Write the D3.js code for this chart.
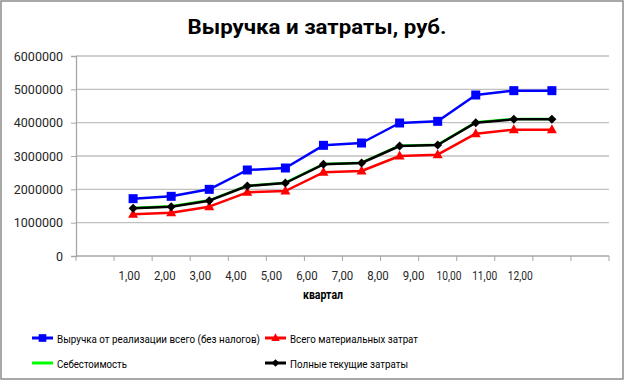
<!DOCTYPE html>
<html><head><meta charset="utf-8">
<script src="https://cdn.jsdelivr.net/npm/d3@7"></script>
<style>
body{margin:0;background:#fff;}
svg{display:block;font-family:Roboto,"Noto Sans",sans-serif;}
</style></head>
<body><svg id="c" width="625" height="381"></svg>
<script>
const title = "Выручка и затраты, руб.";
const xTitle = "квартал";
const categories = ["", "1,00","2,00","3,00","4,00","5,00","6,00","7,00","8,00","9,00","10,00","11,00","12,00", ""];
const labelSlots = ["", "1,00","2,00","3,00","4,00","5,00","6,00","7,00","8,00","9,00","10,00","11,00","12,00", "_a", "_b"];
const yTicks = [0,1000000,2000000,3000000,4000000,5000000,6000000];
const seriesNames = ["Выручка от реализации всего (без налогов)","Всего материальных затрат","Себестоимость","Полные текущие затраты"];
const revenue  = [1720000,1790000,2000000,2580000,2640000,3320000,3390000,3990000,4040000,4830000,4960000,4960000];
const material = [1250000,1300000,1480000,1910000,1950000,2510000,2550000,3000000,3040000,3670000,3790000,3790000];
const costPrice= [1440000,1490000,1670000,2110000,2200000,2760000,2800000,3310000,3340000,4010000,4110000,4110000];
const current  = [1430000,1480000,1660000,2100000,2190000,2750000,2790000,3300000,3330000,4000000,4100000,4100000];

const svg = d3.select("#c");
svg.append("rect").attr("x",1).attr("y",1).attr("width",622).attr("height",378)
  .attr("fill","#fff").attr("stroke","#8c8c8c").attr("stroke-width",1.5);

const L=76,R=609,T=56,B=256;
const x = d3.scaleBand().domain(categories.map((d,i)=>i)).range([L,R]);
const xl = d3.scaleBand().domain(labelSlots.map((d,i)=>i)).range([L,R]);
const y = d3.scaleLinear().domain([0,6000000]).range([B,T]);

svg.append("g").selectAll("line").data(yTicks.slice(1)).join("line")
  .attr("x1",L).attr("x2",R).attr("y1",d=>y(d)).attr("y2",d=>y(d))
  .attr("stroke","#c0c0c0").attr("stroke-width",1.3);

const ya = svg.append("g").attr("transform",`translate(${L},0)`)
  .call(d3.axisLeft(y).tickValues(yTicks).tickSize(5).tickPadding(8).tickFormat(d3.format("d")));
ya.select(".domain").attr("stroke","#a6a6a6").attr("stroke-width",1.3);
ya.selectAll(".tick line").attr("stroke","#a6a6a6");
ya.selectAll("text").attr("font-size",12.5).attr("fill","#262626").attr("font-family","Roboto");

const xa = svg.append("g").attr("transform",`translate(0,${B})`);
xa.append("line").attr("x1",L).attr("x2",R).attr("stroke","#a6a6a6").attr("stroke-width",1.3);
const bounds = categories.map((d,i)=>x(i)).concat([R]);
xa.selectAll("line.t").data(bounds).join("line").attr("class","t")
  .attr("x1",d=>d).attr("x2",d=>d).attr("y1",0).attr("y2",5).attr("stroke","#a6a6a6");
xa.selectAll("text").data(labelSlots.filter(d=>d && d[0]!=="_")).join("text")
  .attr("x",d=>xl(labelSlots.indexOf(d))+xl.bandwidth()/2).attr("y",24)
  .attr("text-anchor","middle").attr("font-size",12).attr("fill","#262626").text(d=>d)
  .each(function(d){ this.setAttribute("textLength", d.length===4?21.5:25); this.setAttribute("lengthAdjust","spacingAndGlyphs"); });

svg.append("text").attr("x",323).attr("y",299).attr("text-anchor","middle")
  .attr("font-weight","bold").attr("font-size",12.5).attr("fill","#000")
  .attr("textLength",40).attr("lengthAdjust","spacingAndGlyphs").text(xTitle);

svg.append("text").attr("x",317).attr("y",34).attr("text-anchor","middle")
  .attr("font-weight","bold").attr("font-size",21).attr("fill","#000")
  .attr("textLength",259).attr("lengthAdjust","spacingAndGlyphs").text(title);

const px = i => x(i+1)+x.bandwidth()/2;
const line = d3.line().x((d,i)=>px(i)).y(d=>y(d));
const series = [
  {name:seriesNames[0], data:revenue, color:"#0000ff", marker:"square", w:203},
  {name:seriesNames[1], data:material, color:"#ff0000", marker:"triangle", w:128},
  {name:seriesNames[2], data:costPrice, color:"#00ff00", marker:"none", w:70},
  {name:seriesNames[3], data:current, color:"#000000", marker:"diamond", w:118}
];
function marker(g, type, color, s){
  s = s||1;
  if(type==="square") g.append("rect").attr("x",-4.5*s).attr("y",-4.5*s).attr("width",9*s).attr("height",9*s).attr("fill",color);
  else if(type==="triangle") g.append("path").attr("d",`M0,${-5.5*s}L${5*s},${3.5*s}L${-5*s},${3.5*s}Z`).attr("fill",color);
  else if(type==="diamond") g.append("path").attr("d",`M0,${-4.5*s}L${4.5*s},0L0,${4.5*s}L${-4.5*s},0Z`).attr("fill",color);
}
const order=[2,1,3,0];
order.forEach(k=>{
  const s=series[k];
  svg.append("path").datum(s.data).attr("d",line).attr("fill","none")
    .attr("stroke",s.color).attr("stroke-width",2.5).attr("stroke-linejoin","round");
  s.data.forEach((v,i)=>{
    const g=svg.append("g").attr("transform",`translate(${px(i)},${y(v)})`);
    marker(g,s.marker,s.color);
  });
});

const legPos=[[32,338],[265,338],[32,363],[265,363]];
series.forEach((s,k)=>{
  const [lx,ly]=legPos[k];
  const g=svg.append("g").attr("transform",`translate(${lx},${ly})`);
  g.append("line").attr("x1",0).attr("x2",21).attr("stroke",s.color).attr("stroke-width",3);
  const m=g.append("g").attr("transform","translate(10.5,0)");
  marker(m,s.marker,s.color,0.85);
  g.append("text").attr("x",25).attr("y",4.5).attr("font-size",11).attr("fill","#000")
    .attr("textLength",s.w).attr("lengthAdjust","spacingAndGlyphs").text(s.name);
});
</script></body></html>
